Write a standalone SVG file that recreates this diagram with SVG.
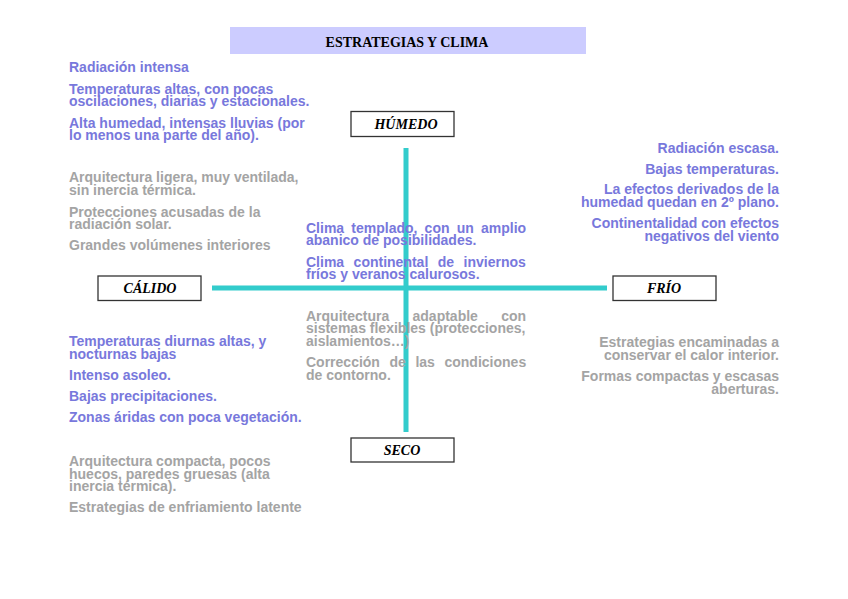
<svg xmlns="http://www.w3.org/2000/svg" width="848" height="599" viewBox="0 0 848 599">
<style>
.t{font-family:"Liberation Sans",Arial,sans-serif;font-weight:bold;font-size:14px}
.b{fill:#7878dc}
.g{fill:#a4a4a4}
.r{text-anchor:end}
.lbl{font-family:"Liberation Serif","Times New Roman",serif;font-weight:bold;font-style:italic;font-size:14px;fill:#000;text-anchor:middle}
.box{fill:#fff;stroke:#333;stroke-width:1.3}
.ax{stroke:#33cccc;stroke-width:5;fill:none}
</style>
<rect width="848" height="599" fill="#fff"/>
<g id="title">
<rect x="230" y="27" width="356" height="27" fill="#ccccff"/>
<text x="407" y="47" font-family="'Liberation Serif','Times New Roman',serif" font-weight="bold" font-size="14" text-anchor="middle">ESTRATEGIAS Y CLIMA</text>
</g>
<g id="connectors">
<line class="ax" x1="406" y1="148" x2="406" y2="432"/>
<line class="ax" x1="212" y1="288" x2="607" y2="288"/>
</g>
<g id="humedo">
<rect class="box" x="351" y="111.5" width="103" height="25"/>
<text class="lbl" x="406" y="129">HÚMEDO</text>
</g>
<g id="calido">
<rect class="box" x="98" y="276" width="103" height="24.5"/>
<text class="lbl" x="150" y="293">CÁLIDO</text>
</g>
<g id="frio">
<rect class="box" x="613" y="276" width="103" height="24.5"/>
<text class="lbl" x="664" y="293">FRÍO</text>
</g>
<g id="seco">
<rect class="box" x="351" y="438" width="103" height="24"/>
<text class="lbl" x="402" y="455">SECO</text>
</g>
<g id="calido-humedo-clima">
<text class="t b" x="69" y="72">Radiación intensa</text>
<text class="t b" x="69" y="93.5">Temperaturas altas, con pocas</text>
<text class="t b" x="69" y="106">oscilaciones, diarias y estacionales.</text>
<text class="t b" x="69" y="127.5">Alta humedad, intensas lluvias (por</text>
<text class="t b" x="69" y="140">lo menos una parte del año).</text>
</g>
<g id="calido-humedo-arq">
<text class="t g" x="69" y="182">Arquitectura ligera, muy ventilada,</text>
<text class="t g" x="69" y="194.5">sin inercia térmica.</text>
<text class="t g" x="69" y="216.5">Protecciones acusadas de la</text>
<text class="t g" x="69" y="229">radiación solar.</text>
<text class="t g" x="69" y="250">Grandes volúmenes interiores</text>
</g>
<g id="templado-clima">
<text class="t b" x="306" y="232.5" word-spacing="3.3">Clima templado, con un amplio</text>
<text class="t b" x="306" y="245">abanico de posibilidades.</text>
<text class="t b" x="306" y="266.5" word-spacing="5.6">Clima continental de inviernos</text>
<text class="t b" x="306" y="279">fríos y veranos calurosos.</text>
</g>
<g id="templado-arq">
<text class="t g" x="306" y="320.5" word-spacing="19.4">Arquitectura adaptable con</text>
<text class="t g" x="306" y="333">sistemas flexibles (protecciones,</text>
<text class="t g" x="306" y="345.5">aislamientos…)</text>
<text class="t g" x="306" y="367" word-spacing="5.7">Corrección de las condiciones</text>
<text class="t g" x="306" y="379.5">de contorno.</text>
</g>
<g id="frio-clima">
<text class="t b r" x="779" y="152.5">Radiación escasa.</text>
<text class="t b r" x="779" y="174">Bajas temperaturas.</text>
<text class="t b r" x="779" y="194">La efectos derivados de la</text>
<text class="t b r" x="779" y="206.5">humedad quedan en 2º plano.</text>
<text class="t b r" x="779" y="228">Continentalidad con efectos</text>
<text class="t b r" x="779" y="240.5">negativos del viento</text>
</g>
<g id="frio-arq">
<text class="t g r" x="779" y="347">Estrategias encaminadas a</text>
<text class="t g r" x="779" y="359.5">conservar el calor interior.</text>
<text class="t g r" x="779" y="381">Formas compactas y escasas</text>
<text class="t g r" x="779" y="393.5">aberturas.</text>
</g>
<g id="calido-seco-clima">
<text class="t b" x="69" y="346">Temperaturas diurnas altas, y</text>
<text class="t b" x="69" y="358.5">nocturnas bajas</text>
<text class="t b" x="69" y="380">Intenso asoleo.</text>
<text class="t b" x="69" y="401">Bajas precipitaciones.</text>
<text class="t b" x="69" y="422">Zonas áridas con poca vegetación.</text>
</g>
<g id="calido-seco-arq">
<text class="t g" x="69" y="466">Arquitectura compacta, pocos</text>
<text class="t g" x="69" y="478.5">huecos, paredes gruesas (alta</text>
<text class="t g" x="69" y="491">inercia térmica).</text>
<text class="t g" x="69" y="512">Estrategias de enfriamiento latente</text>
</g>
</svg>
